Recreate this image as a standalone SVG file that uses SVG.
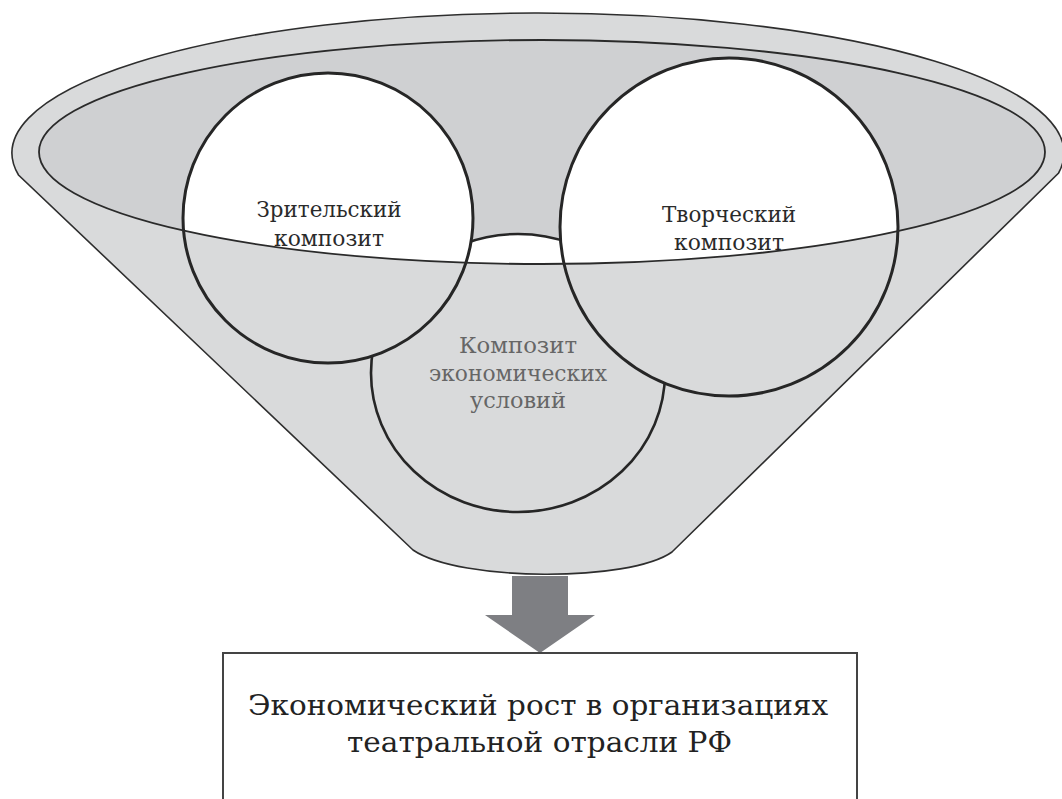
<svg xmlns="http://www.w3.org/2000/svg" width="1062" height="799" viewBox="0 0 1062 799">
  <style>
    .body { fill: #d9dadb; stroke: #2e2e2e; stroke-width: 1.6; }
    .inner { fill: #cfd0d2; }
    .line { fill: none; stroke: #2a2a2a; stroke-width: 1.8; }
    .cfill { fill: #d9dadb; stroke: none; }
    .cwhite { fill: #ffffff; stroke: none; }
    .cline { fill: none; stroke: #262626; stroke-width: 3; }
    .lbl { font-family: "DejaVu Serif", "Liberation Serif", serif; font-size: 22px; fill: #2a2a2a; text-anchor: middle; }
    .lbl2 { font-family: "DejaVu Serif", "Liberation Serif", serif; font-size: 22px; fill: #666666; text-anchor: middle; }
    .box { fill: #ffffff; stroke: #444444; stroke-width: 2; }
    .boxt { font-family: "DejaVu Serif", "Liberation Serif", serif; font-size: 27px; fill: #222222; text-anchor: middle; }
  </style>
  <defs>
    <clipPath id="innerClip">
      <ellipse cx="542" cy="152" rx="503" ry="112"/>
    </clipPath>
  </defs>

  <g id="funnel">
    <path class="body" d="M18.5,175 A526,140 0 1 1 1058.6,173 L672,552 C630,582 460,582 413,550 Z"/>
    <ellipse class="inner" cx="542" cy="152" rx="503" ry="112"/>
  </g>

  <g id="node-economic">
    <ellipse class="cfill" cx="518" cy="373" rx="147" ry="139"/>
    <ellipse class="cwhite" cx="518" cy="373" rx="147" ry="139" clip-path="url(#innerClip)"/>
    <ellipse class="cline" cx="518" cy="373" rx="147" ry="139" style="stroke-width:2.6"/>
    <text class="lbl2" x="518" y="353" textLength="118" lengthAdjust="spacingAndGlyphs">Композит</text>
    <text class="lbl2" x="518" y="381" textLength="178" lengthAdjust="spacingAndGlyphs">экономических</text>
    <text class="lbl2" x="518" y="408" textLength="96" lengthAdjust="spacingAndGlyphs">условий</text>
  </g>

  <g id="node-viewer">
    <circle class="cfill" cx="328" cy="218" r="145"/>
    <circle class="cwhite" cx="328" cy="218" r="145" clip-path="url(#innerClip)"/>
    <circle class="cline" cx="328" cy="218" r="145"/>
    <text class="lbl" x="329" y="217" textLength="145" lengthAdjust="spacingAndGlyphs">Зрительский</text>
    <text class="lbl" x="329" y="246" textLength="110" lengthAdjust="spacingAndGlyphs">композит</text>
  </g>

  <g id="node-creative">
    <circle class="cfill" cx="729" cy="227" r="169"/>
    <circle class="cwhite" cx="729" cy="227" r="169" clip-path="url(#innerClip)"/>
    <circle class="cline" cx="729" cy="227" r="169"/>
    <text class="lbl" x="729" y="222" textLength="134" lengthAdjust="spacingAndGlyphs">Творческий</text>
    <text class="lbl" x="729" y="250" textLength="110" lengthAdjust="spacingAndGlyphs">композит</text>
  </g>

  <g id="funnel-rim">
    <ellipse class="line" cx="542" cy="152" rx="503" ry="112"/>
  </g>

  <g id="connectors">
    <polygon points="512,576 568,576 568,615 595,615 540,653 485,615 512,615" fill="#7e7f83"/>
  </g>

  <g id="node-result">
    <rect class="box" x="223" y="653" width="634" height="170"/>
    <text class="boxt" x="538" y="715" textLength="580" lengthAdjust="spacingAndGlyphs">Экономический рост в организациях</text>
    <text class="boxt" x="539.5" y="752" textLength="385" lengthAdjust="spacingAndGlyphs">театральной отрасли РФ</text>
  </g>
</svg>
